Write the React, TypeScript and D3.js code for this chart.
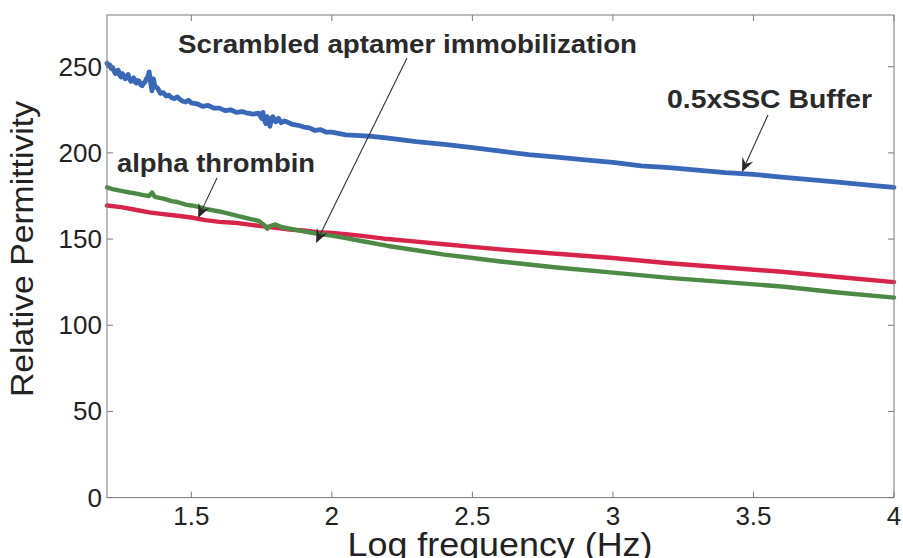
import React from "react";
import * as d3 from "d3";

const xTicks = [1.5, 2, 2.5, 3, 3.5, 4];
const yTicks = [0, 50, 100, 150, 200, 250];

const bufferFreq = [1.2, 1.205, 1.21, 1.215, 1.22, 1.225, 1.23, 1.235, 1.24, 1.245, 1.25, 1.255, 1.26, 1.265, 1.27, 1.275, 1.28, 1.285, 1.29, 1.295, 1.3, 1.305, 1.31, 1.315, 1.32, 1.325, 1.33, 1.335, 1.34, 1.345, 1.35, 1.355, 1.36, 1.365, 1.37, 1.375, 1.38, 1.39, 1.4, 1.41, 1.42, 1.43, 1.44, 1.45, 1.46, 1.47, 1.48, 1.49, 1.5, 1.52, 1.54, 1.56, 1.58, 1.6, 1.62, 1.64, 1.66, 1.68, 1.7, 1.72, 1.74, 1.75, 1.755, 1.76, 1.765, 1.77, 1.775, 1.78, 1.785, 1.79, 1.8, 1.81, 1.82, 1.83, 1.84, 1.86, 1.88, 1.9, 1.92, 1.94, 1.96, 1.98, 2.0, 2.05, 2.1, 2.15, 2.2, 2.3, 2.4, 2.5, 2.6, 2.7, 2.8, 2.9, 3.0, 3.1, 3.2, 3.3, 3.4, 3.5, 3.6, 3.7, 3.8, 3.9, 4.0];
const bufferVals = [252, 250.5, 251, 249, 249.5, 247.5, 246, 247.5, 248, 245, 244, 246, 244.5, 243, 244.5, 245.5, 243, 241.5, 242.5, 243.5, 241, 240.5, 242, 241.5, 239.5, 239, 240.5, 241, 243, 244, 247, 241, 236, 243, 239, 238, 237.5, 234.5, 235, 233, 233.5, 232, 231.5, 232.5, 231, 230, 229.5, 230.5, 229, 228.5, 227, 227.5, 226, 226, 224.5, 225, 223.5, 224, 223, 222.5, 223, 220, 223.5, 219, 217, 221, 218, 215.5, 220, 221, 218, 220, 217.5, 218.5, 218, 216.5, 216, 215, 214.5, 213, 213.5, 212, 212, 210.5, 210, 209.5, 208.5, 206.5, 205, 203, 201, 199, 197.5, 196, 194.5, 192.5, 191.5, 190, 188.5, 187.5, 186, 184.5, 183, 181.5, 180];

const thrombinFreq = [1.2, 1.25, 1.3, 1.35, 1.4, 1.45, 1.5, 1.55, 1.6, 1.65, 1.7, 1.75, 1.8, 1.85, 1.9, 1.95, 2.0, 2.05, 2.1, 2.2, 2.3, 2.4, 2.5, 2.6, 2.8, 3.0, 3.2, 3.4, 3.6, 3.8, 4.0];
const thrombinVals = [169.5, 168.5, 167, 165.5, 164.5, 163.5, 162.5, 161, 160, 159.5, 158.5, 157.5, 156.5, 155.5, 155, 154, 153.5, 152.8, 152, 150, 148.5, 147, 145.5, 144, 141.5, 139, 136, 133.5, 131, 128, 125];

const scrambledFreq = [1.2, 1.22, 1.25, 1.28, 1.3, 1.33, 1.35, 1.36, 1.37, 1.4, 1.43, 1.45, 1.48, 1.5, 1.53, 1.55, 1.6, 1.65, 1.7, 1.74, 1.76, 1.77, 1.78, 1.8, 1.82, 1.85, 1.9, 1.95, 2.0, 2.05, 2.1, 2.2, 2.3, 2.4, 2.5, 2.6, 2.8, 3.0, 3.2, 3.4, 3.6, 3.8, 4.0];
const scrambledVals = [180, 179, 178, 177, 176.5, 175.5, 175, 177, 174.5, 173.5, 172, 171.5, 170, 169.5, 168.5, 167.5, 166, 164, 162, 160.5, 158, 156, 157.5, 158.5, 157, 156, 154.5, 153, 152, 150.5, 149, 146, 143.5, 141, 139, 137, 133.5, 130.5, 127.5, 125, 122.5, 119, 116];

const seriesNames = ["0.5xSSC Buffer", "alpha thrombin", "Scrambled aptamer immobilization"];
const seriesColors = ["#3a68b8", "#d8234a", "#4d8a45"];

const W = 903;
const H = 558;
const left = 107, right = 894, top = 15, bottom = 497.6;
const font = "'Liberation Sans', Arial, Helvetica, sans-serif";

function Arrow({ x1, y1, x2, y2 }: { x1: number; y1: number; x2: number; y2: number }) {
  const ang = Math.atan2(y2 - y1, x2 - x1);
  const L = 14, Wd = 6, back = 9;
  const ux = Math.cos(ang), uy = Math.sin(ang);
  const px = -uy, py = ux;
  const bx = x2 - ux * L, by = y2 - uy * L;
  const nx = x2 - ux * back, ny = y2 - uy * back;
  const pts = [
    [x2, y2],
    [bx + px * Wd, by + py * Wd],
    [nx, ny],
    [bx - px * Wd, by - py * Wd],
  ];
  return (
    <g>
      <line x1={x1} y1={y1} x2={nx} y2={ny} stroke="#333" strokeWidth={1.1} />
      <polygon points={pts.map((p) => p.join(",")).join(" ")} fill="#2a2a2a" />
    </g>
  );
}

export default function App() {
  const x = d3.scaleLinear().domain([1.2, 4]).range([left, right]);
  const y = d3.scaleLinear().domain([0, 280]).range([bottom, top]);
  const line = d3.line<[number, number]>().x((d) => x(d[0])).y((d) => y(d[1]));

  const series = [
    bufferFreq.map((f, i) => [f, bufferVals[i]] as [number, number]),
    thrombinFreq.map((f, i) => [f, thrombinVals[i]] as [number, number]),
    scrambledFreq.map((f, i) => [f, scrambledVals[i]] as [number, number]),
  ];

  const axisColor = "#7a7a7a";
  const tl = 6;

  return (
    <svg width={W} height={H} style={{ position: "absolute", left: 0, top: 0, background: "#fff" }}>
      <rect x={0} y={0} width={W} height={H} fill="#fff" />
      {[0, 1, 2].map((i) => (
        <path
          key={seriesNames[i]}
          d={line(series[i]) || ""}
          fill="none"
          stroke={seriesColors[i]}
          strokeWidth={i === 0 ? 4.8 : 4.4}
          strokeLinejoin="round"
          strokeLinecap="round"
        />
      ))}
      <rect x={left} y={top} width={right - left} height={bottom - top} fill="none" stroke={axisColor} strokeWidth={1} />
      {xTicks.map((t) => (
        <g key={"xt" + t}>
          <line x1={x(t)} x2={x(t)} y1={bottom} y2={bottom - tl} stroke={axisColor} />
          <line x1={x(t)} x2={x(t)} y1={top} y2={top + tl} stroke={axisColor} />
          <text x={x(t)} y={525} textAnchor="middle" fontFamily={font} fontSize={26} fill="#222">
            {String(t)}
          </text>
        </g>
      ))}
      {yTicks.map((t) => (
        <g key={"yt" + t}>
          <line x1={left} x2={left + tl} y1={y(t)} y2={y(t)} stroke={axisColor} />
          <line x1={right} x2={right - tl} y1={y(t)} y2={y(t)} stroke={axisColor} />
          <text x={102} y={y(t) + 9} textAnchor="end" fontFamily={font} fontSize={26} fill="#222">
            {String(t)}
          </text>
        </g>
      ))}
      <text x={500} y={556} textAnchor="middle" fontFamily={font} fontSize={33} fill="#222" textLength={305} lengthAdjust="spacingAndGlyphs">
        Log frequency (Hz)
      </text>
      <text
        transform={`translate(33,249) rotate(-90)`}
        textAnchor="middle"
        fontFamily={font}
        fontSize={31}
        fill="#222"
        textLength={296}
        lengthAdjust="spacingAndGlyphs"
      >
        Relative Permittivity
      </text>
      <text x={178} y={53} fontFamily={font} fontWeight="bold" fontSize={25} fill="#2a2a2a" textLength={459} lengthAdjust="spacingAndGlyphs">
        {seriesNames[2]}
      </text>
      <text x={667} y={108} fontFamily={font} fontWeight="bold" fontSize={25} fill="#2a2a2a" textLength={205} lengthAdjust="spacingAndGlyphs">
        {seriesNames[0]}
      </text>
      <text x={117} y={172} fontFamily={font} fontWeight="bold" fontSize={25} fill="#2a2a2a" textLength={198} lengthAdjust="spacingAndGlyphs">
        {seriesNames[1]}
      </text>
      <Arrow x1={407} y1={58} x2={316} y2={243} />
      <Arrow x1={768} y1={115} x2={742} y2={172} />
      <Arrow x1={217} y1={178} x2={198} y2={218} />
    </svg>
  );
}
